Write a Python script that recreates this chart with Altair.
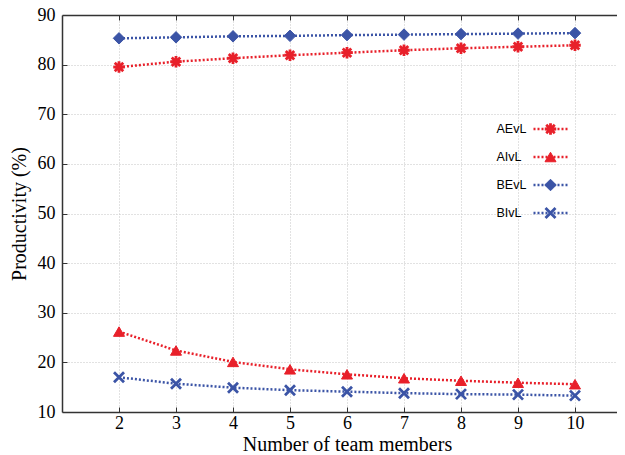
import altair as alt
import pandas as pd

# ---- data ----
members = [2, 3, 4, 5, 6, 7, 8, 9, 10]
aevl = [79.5, 80.6, 81.3, 81.9, 82.4, 82.9, 83.3, 83.6, 83.9]
aivl = [26.2, 22.4, 20.1, 18.6, 17.6, 16.8, 16.3, 15.9, 15.6]
bevl = [85.3, 85.5, 85.7, 85.8, 85.95, 86.05, 86.15, 86.25, 86.35]
bivl = [17.0, 15.7, 14.9, 14.4, 14.1, 13.8, 13.6, 13.5, 13.3]
series_names = ["AEvL", "AIvL", "BEvL", "BIvL"]
y_ticks = [10, 20, 30, 40, 50, 60, 70, 80, 90]

# ---- styles ----
RED = "#e8202a"
BLUE = "#3b54a6"
colors = [RED, RED, BLUE, BLUE]
shape_paths = [
    "M-1.15,0L1.15,0M0,-1.15L0,1.15M-0.85,-0.85L0.85,0.85M-0.85,0.85L0.85,-0.85",  # asterisk
    "M0,-0.95L1.1,0.95L-1.1,0.95Z",                                                # triangle
    "M-1.15,0L0,-1.15L1.15,0L0,1.15Z",                                             # diamond
    "M-1,-1L1,1M-1,1L1,-1",                                                        # x
]
stroke_widths = [2.8, 1, 1, 2.8]

W, H = 555, 397
PX_PER_UNIT = 57.0

rows = []
for name, vals in zip(series_names, [aevl, aivl, bevl, bivl]):
    for n, v in zip(members, vals):
        rows.append({"n": n, "value": v, "series": name})
df = pd.DataFrame(rows)

xscale = alt.Scale(domain=[1, 1 + W / PX_PER_UNIT], nice=False, zero=False)
yscale = alt.Scale(domain=[10, 90], nice=False, zero=False)
cscale = alt.Scale(domain=series_names, range=colors)

SERIF = "Liberation Serif"
SANS = "Liberation Sans"
AX = "#333333"

x_main = alt.Axis(
    orient="bottom", values=members, title="Number of team members",
    titleFont=SERIF, titleFontSize=20, titleFontWeight="normal", titleColor="black",
    titlePadding=2, titleX=285,
    labelFont=SERIF, labelFontSize=18, labelColor="black", labelPadding=2,
    ticks=False, domainColor=AX, domainWidth=1.5,
    grid=True, gridColor="#c4c4c4", gridDash=[1, 2], gridWidth=1,
)
y_main = alt.Axis(
    orient="left", values=y_ticks, title="Productivity (%)",
    titleFont=SERIF, titleFontSize=20, titleFontWeight="normal", titleColor="black",
    titlePadding=8,
    labelFont=SERIF, labelFontSize=18, labelColor="black", labelPadding=7,
    ticks=False, domainColor=AX, domainWidth=1.5,
    grid=True, gridColor="#c4c4c4", gridDash=[1, 2], gridWidth=1,
)
# inward ticks along the bottom and left edges
x_in = alt.Axis(orient="top", offset=-H, values=members, labels=False, domain=False,
                grid=False, title=None, ticks=True, tickSize=5, tickColor=AX, tickWidth=1)
y_in = alt.Axis(orient="right", offset=-W, values=y_ticks[1:-1], labels=False, domain=False,
                grid=False, title=None, ticks=True, tickSize=5, tickColor=AX, tickWidth=1)
# top border with inward ticks
x_top = alt.Axis(orient="bottom", offset=-H, values=members, labels=False, domain=True,
                 domainColor=AX, domainWidth=1.5, grid=False, title=None,
                 ticks=True, tickSize=5, tickColor=AX, tickWidth=1)

line_legend = alt.Legend(
    orient="none", legendX=470, legendY=106, title=None, padding=0,
    symbolType="stroke", symbolSize=1156, symbolStrokeWidth=2.5, symbolDash=[2, 2],
    labelExpr="''", labelFontSize=12,
    clipHeight=16, rowPadding=12,
)
point_legend = alt.Legend(
    orient="none", legendX=482, legendY=106, title=None, padding=0,
    symbolSize=100, labelExpr="''", labelFontSize=12,
    clipHeight=16, rowPadding=12,
)
label_legend = alt.Legend(
    orient="none", legendX=422, legendY=106, title=None, padding=0,
    symbolSize=1, symbolOpacity=0, labelOffset=0,
    labelFont=SANS, labelFontSize=12.5, labelColor="black",
    clipHeight=16, rowPadding=12,
)

lines = alt.Chart(df).mark_line(strokeWidth=2.5, strokeDash=[2, 2]).encode(
    x=alt.X("n:Q", scale=xscale, axis=x_main),
    y=alt.Y("value:Q", scale=yscale, axis=y_main),
    color=alt.Color("series:N", scale=cscale, legend=line_legend),
)

points = alt.Chart(df).mark_point(filled=True, size=100, opacity=1).encode(
    x=alt.X("n:Q", scale=xscale, axis=x_in),
    y=alt.Y("value:Q", scale=yscale, axis=y_in),
    color=alt.Color("series:N", scale=cscale, legend=point_legend),
    stroke=alt.Stroke("series:N", scale=cscale),
    shape=alt.Shape("series:N", scale=alt.Scale(domain=series_names, range=shape_paths)),
    strokeWidth=alt.StrokeWidth(
        "series:N",
        scale=alt.Scale(type="ordinal", domain=series_names, range=stroke_widths),
    ),
)

frame = alt.Chart(df).mark_point(opacity=0).encode(
    x=alt.X("n:Q", scale=xscale, axis=x_top),
    y=alt.Y("value:Q", scale=yscale, axis=None),
    color=alt.Color("series:N", scale=cscale, legend=label_legend),
)

chart = (
    alt.layer(lines, points, frame)
    .resolve_axis(x="independent", y="independent")
    .resolve_legend(color="independent", shape="independent", stroke="independent",
                    strokeWidth="independent")
    .properties(
        width=W, height=H,
        autosize=alt.AutoSizeParams(type="none"),
        padding={"left": 54, "top": 7, "right": 0, "bottom": 40},
        background="white",
    )
    .configure_view(stroke=None)
)

chart.save("out.html", embed_options={"renderer": "svg", "actions": False})
